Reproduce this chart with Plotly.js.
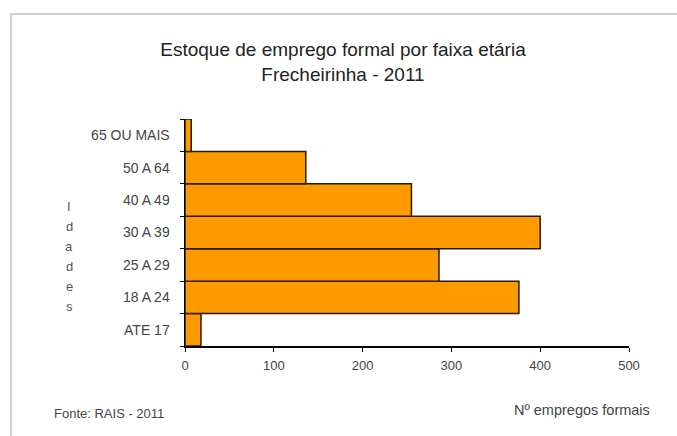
<!DOCTYPE html>
<html>
<head>
<meta charset="utf-8">
<script src="https://cdn.plot.ly/plotly-3.0.1.min.js"></script>
<style>
html,body{margin:0;padding:0;background:#fff;}
#wrap{position:absolute;left:0;top:0;width:677px;height:436px;}
#frame{position:absolute;left:10px;top:13px;width:667px;height:423px;border-left:2px solid #cfcfcf;border-top:2px solid #cfcfcf;pointer-events:none;}
#chart{position:absolute;left:0;top:0;width:677px;height:436px;}
</style>
</head>
<body>
<div id="wrap">
<div id="chart"></div>
<div id="frame"></div>
</div>
<script>
const categories = ["ATE 17", "18 A 24", "25 A 29", "30 A 39", "40 A 49", "50 A 64", "65 OU MAIS"];
const values = [18, 376, 286, 400, 255, 136, 7];
const xTicks = [0, 100, 200, 300, 400, 500];
const titleLines = ["Estoque de emprego formal por faixa etária", "Frecheirinha - 2011"];
const yTitleLetters = ["I", "d", "a", "d", "e", "s"];
const sourceText = "Fonte: RAIS - 2011";
const xTitleText = "Nº empregos formais";

const font = "Liberation Sans, Arial, sans-serif";

// plot-area geometry (px) used to place free text
const W = 677, H = 436, L = 185, R = 48, T = 119, B = 90;
const pw = W - L - R, ph = H - T - B;
const px = x => (x - L) / pw;
const py = y => (H - B - y) / ph;

const trace = {
  type: "bar",
  orientation: "h",
  x: values,
  y: categories,
  marker: {color: "#FF9900", line: {color: "#2a1a00", width: 1.5}},
  hoverinfo: "x+y"
};

const letterAnns = yTitleLetters.map((ch, i) => ({
  text: ch,
  xref: "paper", yref: "paper",
  x: px(69), y: py(206 + 20 * i),
  xanchor: "center", yanchor: "middle",
  showarrow: false,
  font: {family: font, size: 13, color: "#555"}
}));

const layout = {
  width: W,
  height: H,
  margin: {l: L, r: R, t: T, b: B},
  paper_bgcolor: "#ffffff",
  plot_bgcolor: "#ffffff",
  showlegend: false,
  bargap: 0,
  font: {family: font, color: "#333", size: 13},
  title: {
    text: titleLines.join("<br>"),
    x: 343 / W, xanchor: "center",
    y: 1 - 56 / H, yanchor: "middle",
    font: {family: font, size: 19, color: "#222"}
  },
  xaxis: {
    range: [0, 500],
    tickvals: xTicks,
    ticktext: xTicks.map(String),
    showgrid: false,
    zeroline: false,
    showline: true,
    linecolor: "#000",
    linewidth: 1.5,
    ticks: "outside",
    ticklen: 4,
    tickcolor: "#000",
    ticklabelstandoff: 3,
    tickfont: {family: font, size: 13, color: "#444"},
    fixedrange: true
  },
  yaxis: {
    type: "category",
    categoryorder: "array",
    categoryarray: categories,
    showgrid: false,
    zeroline: false,
    showline: true,
    linecolor: "#000",
    linewidth: 1.5,
    ticks: "outside",
    tickson: "boundaries",
    ticklen: 4,
    tickcolor: "#000",
    ticklabelstandoff: 11,
    tickfont: {family: font, size: 14, color: "#444"},
    fixedrange: true
  },
  annotations: letterAnns.concat([
    {
      text: sourceText,
      xref: "paper", yref: "paper",
      x: px(52), y: py(413), xanchor: "left", yanchor: "middle",
      showarrow: false,
      font: {family: font, size: 13, color: "#444"}
    },
    {
      text: xTitleText,
      xref: "paper", yref: "paper",
      x: px(652), y: py(410), xanchor: "right", yanchor: "middle",
      showarrow: false,
      font: {family: font, size: 14.5, color: "#444"}
    }
  ])
};

Plotly.newPlot("chart", [trace], layout, {displayModeBar: false, staticPlot: true});
</script>
</body>
</html>
